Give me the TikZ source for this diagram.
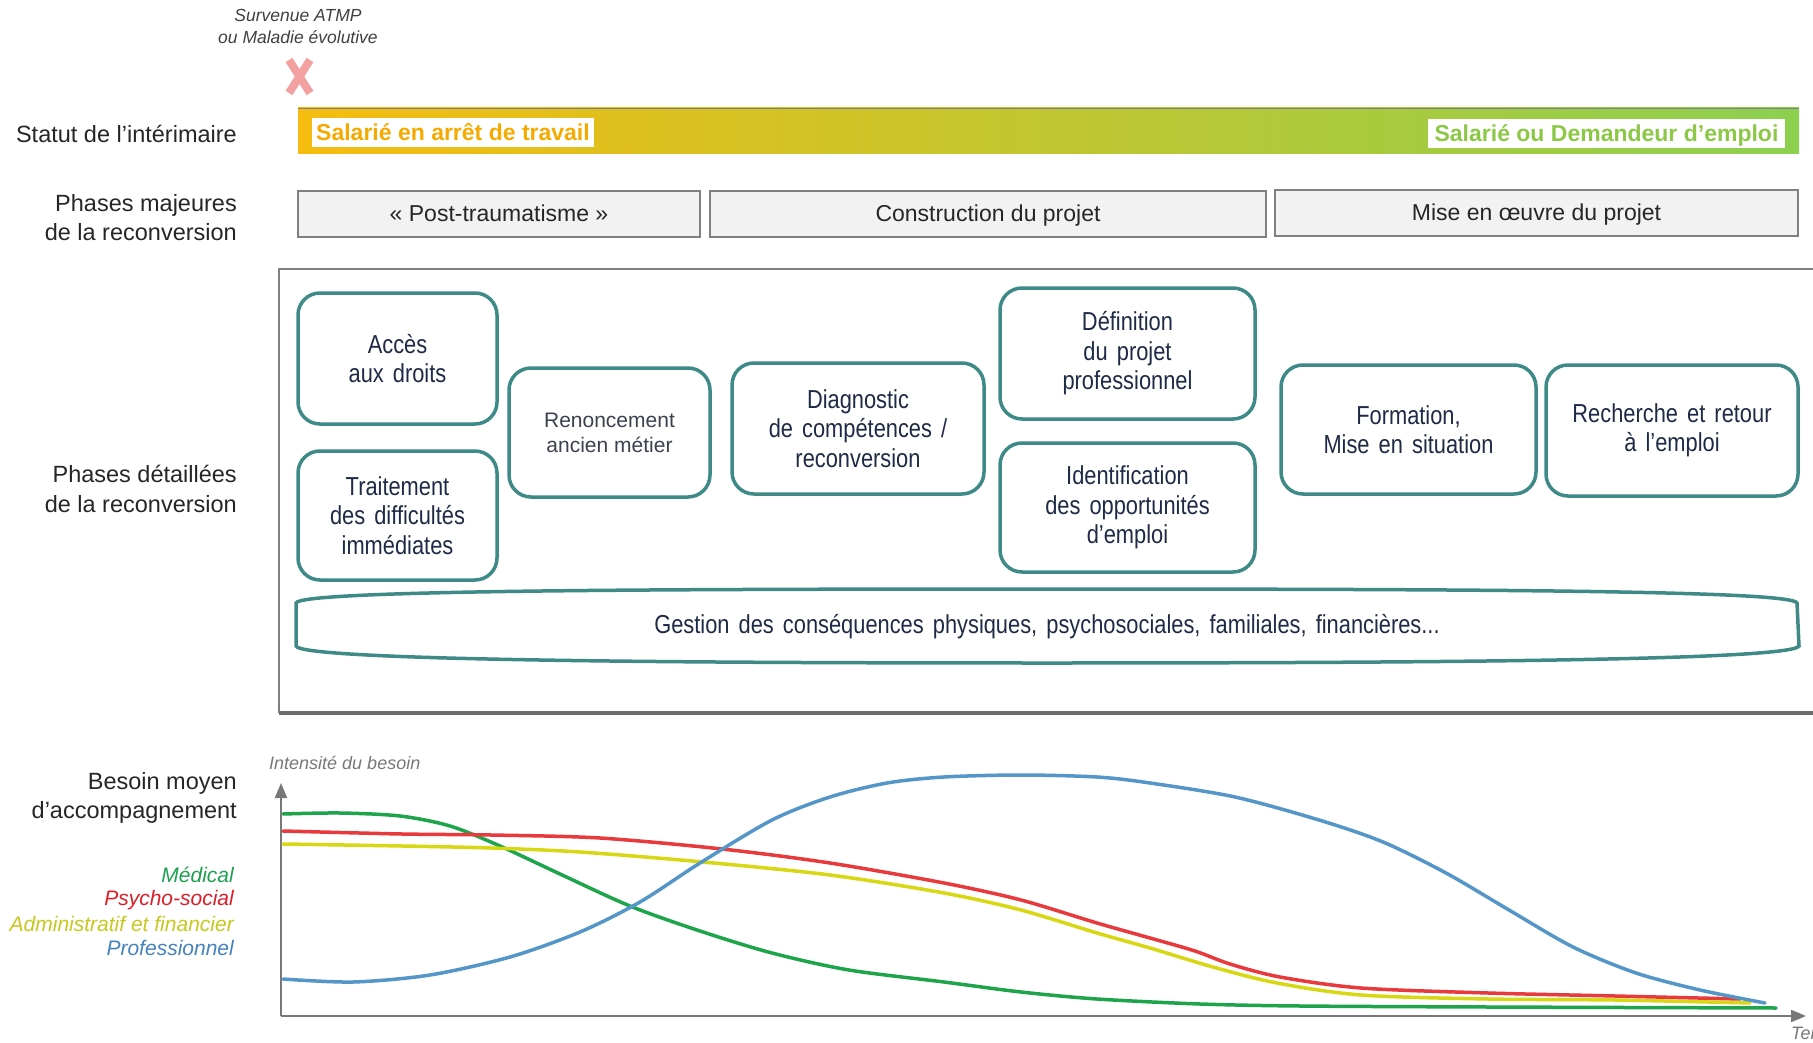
\documentclass[tikz,border=0pt]{standalone}
\usepackage{fontspec}
\setmainfont{Liberation Sans}
\newfontfamily\narrowfont[FakeStretch=0.84,WordSpace=1.5]{Liberation Sans}
\usetikzlibrary{arrows.meta}
\definecolor{boxteal}{RGB}{62,138,134}
\definecolor{navytext}{RGB}{30,42,70}
\definecolor{renontext}{RGB}{60,65,80}
\definecolor{labelgray}{RGB}{38,38,38}
\definecolor{framegray}{RGB}{128,128,128}
\definecolor{phasefill}{RGB}{242,242,242}
\definecolor{barorange}{RGB}{246,188,16}
\definecolor{barmid}{RGB}{212,197,48}
\definecolor{bargreen}{RGB}{140,208,80}
\definecolor{txtorange}{RGB}{245,170,0}
\definecolor{txtgreen}{RGB}{140,200,70}
\definecolor{xpink}{RGB}{242,160,160}
\definecolor{cgreen}{RGB}{30,165,75}
\definecolor{cred}{RGB}{232,58,60}
\definecolor{cyellow}{RGB}{215,215,20}
\definecolor{cblue}{RGB}{85,150,200}
\definecolor{lgreen}{RGB}{30,160,80}
\definecolor{lred}{RGB}{220,30,40}
\definecolor{lyellow}{RGB}{200,200,30}
\definecolor{lblue}{RGB}{70,130,190}
\definecolor{axisgray}{RGB}{120,120,120}
\definecolor{softgray}{RGB}{64,64,64}
\begin{document}
\begin{tikzpicture}[x=1pt,y=-1pt,
  lbl/.style={anchor=east, align=right, inner sep=0pt, text=labelgray, font=\fontsize{23.5}{29.5}\selectfont},
  hl/.style={fill=white, inner sep=0pt, text height=16pt, text depth=0pt, font=\bfseries\fontsize{23}{27}\selectfont},
  phase/.style={draw=framegray, line width=2pt, fill=phasefill, inner sep=0pt, text height=16pt, text depth=0pt, text=labelgray, font=\fontsize{23}{27}\selectfont},
  stage/.style={draw=boxteal, line width=3.5pt, rounded corners=22pt, fill=white, inner sep=0pt, align=center, text=navytext, font=\narrowfont\fontsize{26}{29.5}\selectfont},
  legend/.style={anchor=east, inner sep=0pt, font=\itshape\fontsize{21}{24}\selectfont},
  curve/.style={line width=3.5pt, line cap=round},
  axis/.style={axisgray, line width=2pt, -{Triangle[length=15pt,width=12pt]}}
]
\useasboundingbox (0,0) rectangle (1813,1043);
\clip (0,0) rectangle (1813,1043);
\fill[white] (0,0) rectangle (1813,1043);

% top event
\node[align=center, text=softgray, font=\itshape\fontsize{17.5}{22}\selectfont] (survenue) at (298,26) {Survenue ATMP\\ou Maladie évolutive};
\draw[xpink, line width=8pt] (289,60) -- (310,93) (310,60) -- (289,93);

% status bar
\shade[left color=barorange, middle color=barmid, right color=bargreen] (298,108) rectangle (1799,154);
\draw[gray, line width=1.5pt] (298,108.5) -- (1799,108.5);
\node[hl, text=txtorange, minimum width=282pt, minimum height=29pt] (arret) at (453,132.5) {Salarié en arrêt de travail};
\node[hl, text=txtgreen, minimum width=357pt, minimum height=29pt] (demandeur) at (1606.5,133.5) {Salarié ou Demandeur d’emploi};

% left labels
\node[lbl] (statut) at (237,134) {Statut de l’intérimaire};
\node[lbl] (majeures) at (237,217.5) {Phases majeures\\de la reconversion};
\node[lbl] (detaillees) at (237,489) {Phases détaillées\\de la reconversion};
\node[lbl] (besoin) at (237,798) {Besoin moyen\\d’accompagnement};

% major phases
\node[phase, minimum width=402pt, minimum height=46pt] (post) at (499,214) {« Post-traumatisme »};
\node[phase, minimum width=556pt, minimum height=46pt] (construction) at (988,214) {Construction du projet};
\node[phase, minimum width=523pt, minimum height=46pt] (miseoeuvre) at (1536.5,213) {Mise en œuvre du projet};

% frame
\draw[framegray, line width=2.5pt] (1830,269) -- (279,269) -- (279,713);
\draw[framegray!85!black, line width=3.5pt] (279,713) -- (1830,713);

% detailed phases
\node[stage, minimum width=199pt, minimum height=131pt] (acces) at (397.5,358.5) {Accès\\aux droits};
\node[stage, minimum width=199pt, minimum height=129pt] (traitement) at (397.5,515.5) {Traitement\\des difficultés\\immédiates};
\node[stage, minimum width=201pt, minimum height=129pt, text=renontext, font=\fontsize{21}{25}\selectfont] (renoncement) at (609.5,432.5) {Renoncement\\ancien métier};
\node[stage, minimum width=252pt, minimum height=131pt] (diagnostic) at (858,428.5) {Diagnostic\\de compétences /\\reconversion};
\node[stage, minimum width=255pt, minimum height=131pt] (definition) at (1127.5,353.5) {Définition\\du projet\\professionnel};
\node[stage, minimum width=255pt, minimum height=129pt] (identification) at (1127.5,507.5) {Identification\\des opportunités\\d’emploi};
\node[stage, minimum width=255pt, minimum height=129pt] (formation) at (1408.5,429.5) {Formation,\\Mise en situation};
\node[stage, minimum width=252pt, minimum height=131pt] (recherche) at (1672,430.5) {Recherche et retour\\à l’emploi};

% gestion band
\draw[boxteal, line width=3.5pt, fill=white]
  (1047,589) .. controls (1500,589) and (1792,591) .. (1797,603)
  -- (1799,646) .. controls (1792,659) and (1500,663) .. (1047,663)
  .. controls (600,663) and (300,659) .. (296,646)
  -- (296,603) .. controls (300,591) and (600,589) .. (1047,589) -- cycle;
\node[inner sep=0pt, text=navytext, font=\narrowfont\fontsize{26}{29.5}\selectfont] (gestion) at (1047,627) {Gestion des conséquences physiques, psychosociales, familiales, financières...};

% graph
\node[anchor=west, inner sep=0pt, text=axisgray, font=\itshape\fontsize{18}{22}\selectfont] (intensite) at (269,763) {Intensité du besoin};
\coordinate (origin) at (281,1016);
\coordinate (ytip) at (281,783);
\coordinate (xtip) at (1806,1016);
\draw[axis] (origin) -- (ytip);
\draw[axis] (origin) -- (xtip);
\node[anchor=west, inner sep=0pt, text=axisgray, font=\itshape\fontsize{18}{22}\selectfont] (temps) at (1791,1035) {Temps};

\node[legend, text=lgreen] (medical) at (234,875) {Médical};
\node[legend, text=lred] (psycho) at (234,900) {Psycho-social};
\node[legend, text=lyellow] (admin) at (234,924) {Administratif et financier};
\node[legend, text=lblue] (pro) at (234,948) {Professionnel};

\draw[curve, cgreen] plot[smooth] coordinates {(283,814) (340,813) (400,816) (450,826) (500,846) (560,874) (630,906) (700,931) (772,953) (849,970) (944,982) (1021,992) (1097,999) (1200,1004) (1300,1006) (1488,1007) (1776,1008)};
\draw[curve, cyellow] plot[smooth] coordinates {(283,844) (402,846) (491,848) (580,852) (703,862) (830,875) (944,893) (1021,910) (1097,933) (1150,948) (1213,967) (1277,983) (1361,995) (1488,999) (1615,1000) (1750,1003)};
\draw[curve, cred] plot[smooth] coordinates {(283,831) (402,834) (491,835) (600,838) (722,849) (830,863) (944,883) (1021,900) (1097,923) (1150,938) (1195,951) (1230,964) (1280,977) (1361,988) (1488,993) (1615,996) (1740,999)};
\draw[curve, cblue] plot[smooth] coordinates {(283,979) (353,982) (430,975) (510,957) (580,932) (640,902) (700,863) (772,820) (830,797) (887,783) (944,777) (1021,775) (1097,777) (1150,783) (1235,797) (1319,820) (1383,842) (1446,873) (1509,910) (1573,947) (1636,973) (1700,990) (1765,1003)};
\end{tikzpicture}
\end{document}
